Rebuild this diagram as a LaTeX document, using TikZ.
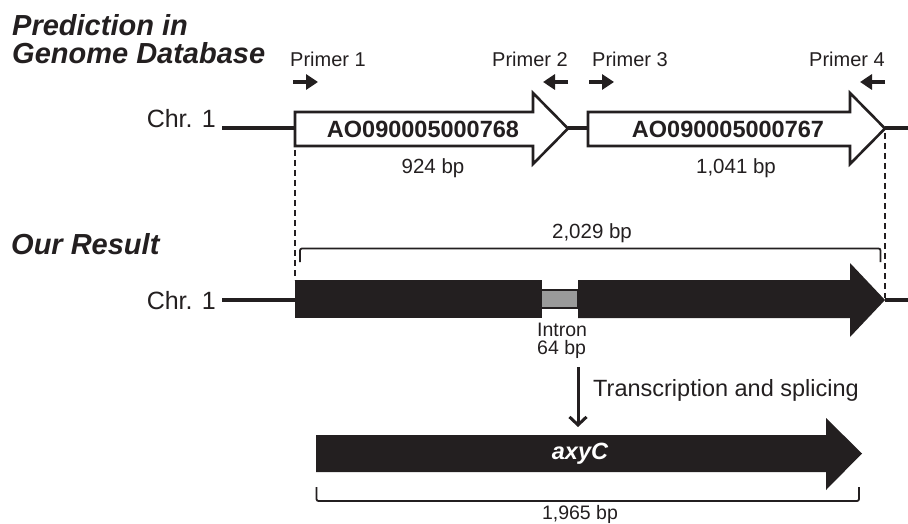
\documentclass[tikz,border=0pt]{standalone}
\usepackage{fontspec}
\setmainfont{Liberation Sans}
\usetikzlibrary{arrows.meta}
\definecolor{ink}{HTML}{231F20}
\definecolor{introngray}{HTML}{9A9A9A}
\newcommand{\fs}[1]{\fontsize{#1}{#1}\selectfont}
\tikzset{
  chrline/.style={draw=ink, line width=3.4pt},
  genebox/.style={draw=ink, fill=white, line width=2.6pt, line join=miter},
  exon/.style={fill=ink, draw=none},
  guide/.style={draw=ink, line width=1.4pt, dash pattern=on 6pt off 4pt},
  bracketline/.style={draw=ink, line width=1.8pt, rounded corners=2pt},
  primer/.style={draw=ink, line width=3.4pt, -{Triangle[length=12pt,width=15pt]}},
  steparrow/.style={draw=ink, line width=3pt, -{Straight Barb[length=8pt,width=17pt]}},
  title/.style={inner sep=0pt, font=\fs{29}\bfseries\itshape, text=ink},
  chrlabel/.style={inner sep=0pt, font=\fs{25}, text=ink},
  genelabel/.style={inner sep=0pt, font=\fs{23.5}\bfseries, text=ink},
  small/.style={inner sep=0pt, font=\fs{20.5}, text=ink},
  primerlabel/.style={inner sep=0pt, font=\fs{20}, text=ink},
}
\begin{document}
\begin{tikzpicture}[x=1pt,y=-1pt]
\useasboundingbox (0,0) rectangle (908,524);

% titles
\node[title, anchor=base west] (t1) at (12,36) {Prediction in};
\node[title, anchor=base west] (t2) at (12,64) {Genome Database};
\node[title, anchor=base west] (t3) at (11,254) {Our Result};

% ---------- top row ----------
\node[chrlabel, anchor=base east] (chrA) at (216,128) {Chr. 1};
\coordinate (a0) at (222,128);
\coordinate (g1s) at (295,128);
\coordinate (g1t) at (568,128);
\coordinate (g2s) at (588,128);
\coordinate (g2t) at (885,128);
\coordinate (aE) at (908,128);
\draw[chrline] (a0) -- (g1s);
\draw[chrline] (g1t) -- (g2s);
\draw[chrline] (g2t) -- (aE);

\draw[genebox] (295,112) -- (533,112) -- (533,93) -- (568,128.5) -- (533,164) -- (533,146) -- (295,146) -- cycle;
\draw[genebox] (588,112) -- (850,112) -- (850,93) -- (885,128.5) -- (850,164) -- (850,146) -- (588,146) -- cycle;

\node[genelabel] (n768) at (423,129) {AO090005000768};
\node[genelabel] (n767) at (728,129) {AO090005000767};
\node[small, anchor=base] (l924) at (433,174) {924 bp};
\node[small, anchor=base] (l1041) at (736,174) {1,041 bp};

% primers
\node[primerlabel, anchor=base west] (pr1) at (290,67) {Primer 1};
\node[primerlabel, anchor=base east] (pr2) at (568,67) {Primer 2};
\node[primerlabel, anchor=base west] (pr3) at (592,67) {Primer 3};
\node[primerlabel, anchor=base east] (pr4) at (885,67) {Primer 4};
\coordinate (p1a) at (293,82); \coordinate (p1b) at (318,82);
\coordinate (p2a) at (568,82); \coordinate (p2b) at (543,82);
\coordinate (p3a) at (589,82); \coordinate (p3b) at (614,82);
\coordinate (p4a) at (885,82); \coordinate (p4b) at (860,82);
\draw[primer] (p1a) -- (p1b);
\draw[primer] (p2a) -- (p2b);
\draw[primer] (p3a) -- (p3b);
\draw[primer] (p4a) -- (p4b);

% guides
\coordinate (d1a) at (295,150); \coordinate (d1b) at (295,280);
\coordinate (d2a) at (885,133); \coordinate (d2b) at (885,298);
\draw[guide] (d1a) -- (d1b);
\draw[guide] (d2a) -- (d2b);

% 2,029 bracket
\draw[bracketline] (300,262) -- (300,248.5) -- (880.5,248.5) -- (880.5,262);
\node[small, anchor=base] (l2029) at (592,238) {2,029 bp};

% ---------- middle row ----------
\node[chrlabel, anchor=base east] (chrB) at (216,309) {Chr. 1};
\coordinate (b0) at (222,300);
\coordinate (e1s) at (295,300);
\coordinate (e2t) at (885,300);
\coordinate (bE) at (908,300);
\draw[chrline] (b0) -- (e1s);
\draw[chrline] (e2t) -- (bE);

\fill[exon] (295,280) rectangle (541.5,318);
\draw[fill=introngray, draw=ink, line width=2pt] (541,290) rectangle (578,307.5);
\fill[exon] (578,280) -- (850,280) -- (850,263) -- (885,300) -- (850,337) -- (850,318) -- (578,318) -- cycle;

\node[small, anchor=base west, font=\fs{19.5}] (intr) at (537,336) {Intron};
\node[small, anchor=base west, font=\fs{19.5}] (i64) at (537,354) {64 bp};

\coordinate (ts) at (578,367);
\coordinate (te) at (578,427);
\draw[steparrow] (ts) -- (te);
\node[inner sep=0pt, font=\fs{23.5}, text=ink, anchor=base west] (tr) at (593,396) {Transcription and splicing};

% ---------- bottom row ----------
\fill[exon] (316,435) -- (826,435) -- (826,418) -- (862,453.5) -- (826,490) -- (826,472) -- (316,472) -- cycle;
\node[inner sep=0pt, font=\fs{23.5}\bfseries\itshape, text=white] (axyc) at (580,454) {axyC};

\draw[bracketline] (316.5,487) -- (316.5,501) -- (859,501) -- (859,487);
\node[small, anchor=base, font=\fs{19.5}] (l1965) at (580,519) {1,965 bp};
\end{tikzpicture}
\end{document}
